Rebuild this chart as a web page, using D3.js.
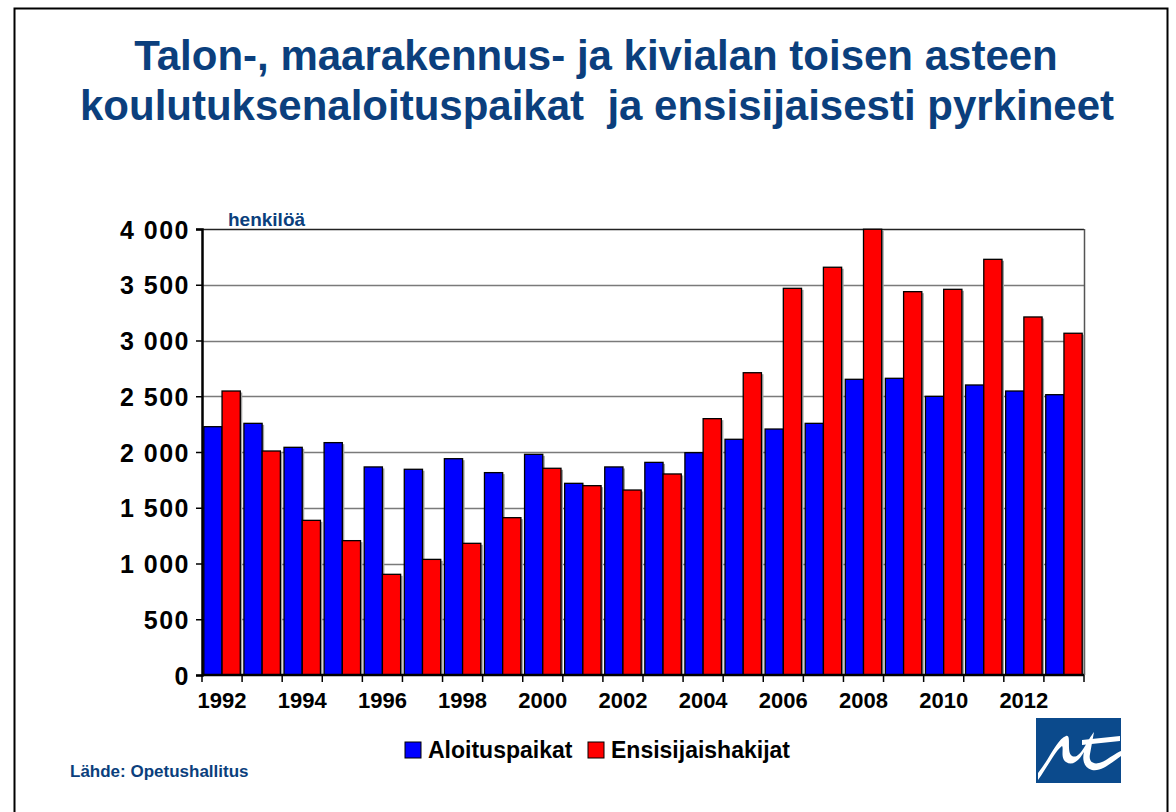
<!DOCTYPE html>
<html>
<head>
    <style>
        body { margin: 0; background: #fff; }
        svg text { font-family: "Liberation Sans", Arial, sans-serif; font-weight: bold; }
        .title { fill: #0b3f7d; font-size: 42px; text-anchor: middle; }
        .ylab text { font-size: 25px; letter-spacing: 1.5px; fill: #000; }
        .xlab text { font-size: 22px; fill: #000; }
        .note { fill: #0b3f7d; }
    </style>
    <script src="https://d3js.org/d3.v7.min.js"></script>
</head>
<body>
    <svg width="1176" height="812"></svg>
    <script>
        var years = [1992, 1993, 1994, 1995, 1996, 1997, 1998, 1999, 2000, 2001, 2002,
                     2003, 2004, 2005, 2006, 2007, 2008, 2009, 2010, 2011, 2012, 2013];
        var aloituspaikat = [2227, 2257, 2042, 2084, 1866, 1845, 1940, 1815, 1979, 1719, 1866,
                             1907, 1994, 2114, 2206, 2257, 2652, 2661, 2499, 2601, 2547, 2514];
        var ensisijaiset = [2547, 2009, 1387, 1205, 903, 1037, 1181, 1411, 1854, 1698, 1659,
                            1803, 2299, 2711, 3468, 3657, 3998, 3438, 3459, 3728, 3211, 3065];
        var yTicks = [0, 500, 1000, 1500, 2000, 2500, 3000, 3500, 4000];
        var seriesNames = ["Aloituspaikat", "Ensisijaishakijat"];
        var colors = ["#0000ff", "#ff0000"];

        var svg = d3.select("svg");
        var plotL = 202, plotR = 1084, plotT = 229, plotB = 675;

        // page frame
        svg.append("rect")
           .attr("x", 14.5).attr("y", 8.5)
           .attr("width", 1153).attr("height", 820)
           .attr("fill", "none").attr("stroke", "#000").attr("stroke-width", 2);

        svg.append("text").attr("class", "title").attr("x", 596).attr("y", 70)
           .text("Talon-, maarakennus- ja kivialan toisen asteen");
        svg.append("text").attr("class", "title").attr("x", 597).attr("y", 120)
           .attr("xml:space", "preserve")
           .text("koulutuksenaloituspaikat  ja ensisijaisesti pyrkineet");

        var x = d3.scaleBand().domain(years).range([plotL, plotR]).paddingInner(0).paddingOuter(0);
        var x1 = d3.scaleBand().domain([0, 1]).range([0, x.bandwidth()]).paddingOuter(0.1).paddingInner(0);
        var y = d3.scaleLinear().domain([0, 4000]).range([plotB, plotT]);

        // grid lines
        svg.append("g").selectAll("line")
           .data(yTicks.filter(function(d) { return d > 0; }))
           .enter().append("line")
           .attr("x1", plotL).attr("x2", plotR)
           .attr("y1", function(d) { return Math.round(y(d)) + 0.5; })
           .attr("y2", function(d) { return Math.round(y(d)) + 0.5; })
           .attr("stroke", function(d) { return d === 4000 ? "#222" : "#7a7a7a"; })
           .attr("stroke-width", 1.3);
        svg.append("line")
           .attr("x1", plotR + 0.5).attr("x2", plotR + 0.5)
           .attr("y1", plotT).attr("y2", plotB)
           .attr("stroke", "#555").attr("stroke-width", 1.5);

        var data = [];
        years.forEach(function(yr, i) {
            data.push({ year: yr, s: 0, v: aloituspaikat[i] });
            data.push({ year: yr, s: 1, v: ensisijaiset[i] });
        });

        // bar shadows
        svg.append("g").selectAll("rect").data(data).enter().append("rect")
           .attr("x", function(d) { return x(d.year) + x1(d.s) + 2; })
           .attr("y", function(d) { return y(d.v) + 1.5; })
           .attr("width", x1.bandwidth())
           .attr("height", function(d) { return plotB - y(d.v) - 1.5; })
           .attr("fill", "#a0a0a0");

        svg.append("g").selectAll("rect").data(data).enter().append("rect")
           .attr("x", function(d) { return x(d.year) + x1(d.s); })
           .attr("y", function(d) { return y(d.v); })
           .attr("width", x1.bandwidth())
           .attr("height", function(d) { return plotB - y(d.v); })
           .attr("fill", function(d) { return colors[d.s]; })
           .attr("stroke", "#000").attr("stroke-width", 1.3);

        // y axis
        var fmt = function(d) { return d3.format(",")(d).replace(",", " "); };
        var yAxis = svg.append("g").attr("class", "ylab")
           .attr("transform", "translate(" + plotL + ",0)")
           .call(d3.axisLeft(y).tickValues(yTicks).tickSize(6).tickPadding(6).tickFormat(fmt));
        yAxis.select(".domain").attr("stroke-width", 2.5);
        yAxis.selectAll(".tick line").attr("stroke-width", 1.5);
        yAxis.selectAll("text").attr("dy", "0.36em");

        // x axis with ticks between categories
        var xAxis = svg.append("g").attr("class", "xlab")
           .attr("transform", "translate(0," + plotB + ")");
        xAxis.append("line").attr("x1", plotL).attr("x2", plotR)
           .attr("stroke", "#000").attr("stroke-width", 2.5);
        xAxis.selectAll("line.tk").data(years.concat(["end"])).enter().append("line")
           .attr("class", "tk")
           .attr("x1", function(d, i) { return plotL + i * x.bandwidth(); })
           .attr("x2", function(d, i) { return plotL + i * x.bandwidth(); })
           .attr("y1", 0).attr("y2", 7)
           .attr("stroke", "#000").attr("stroke-width", 1.5);
        xAxis.selectAll("text").data(years.filter(function(d) { return d % 2 === 0; }))
           .enter().append("text")
           .attr("x", function(d) { return x(d) + x.bandwidth() / 2; })
           .attr("y", 33)
           .attr("text-anchor", "middle")
           .text(function(d) { return d; });

        svg.append("text").attr("class", "note").attr("x", 228).attr("y", 226)
           .style("font-size", "19px").text("henkilöä");

        // legend
        var legend = svg.append("g").attr("transform", "translate(405,742)");
        var lx = [0, 183];
        seriesNames.forEach(function(name, i) {
            legend.append("rect").attr("x", lx[i]).attr("y", 0)
               .attr("width", 16).attr("height", 16)
               .attr("fill", colors[i]).attr("stroke", "#000").attr("stroke-width", 1);
            legend.append("text").attr("x", lx[i] + 23).attr("y", 16)
               .style("font-size", "23px").text(name);
        });

        svg.append("text").attr("class", "note").attr("x", 70).attr("y", 777)
           .style("font-size", "17px").text("Lähde: Opetushallitus");

        // logo
        var logo = svg.append("g").attr("transform", "translate(1036,718)");
        logo.append("rect").attr("width", 85).attr("height", 65).attr("fill", "#0b4a8c");
        logo.append("path")
           .attr("d", "M2,55 C14,40 22,20 30,18 C36,16 30,34 36,38 C44,42 50,24 58,14 L54,36 C52,46 60,48 70,42 C76,38 82,34 85,33 L85,38 C76,44 66,54 56,52 C48,50 46,42 48,34 C42,44 36,48 30,44 C24,40 28,30 26,28 C20,32 12,48 2,62 Z")
           .attr("fill", "#fff");
        logo.append("path")
           .attr("d", "M46,22 L84,18 L84,23 L46,27 Z").attr("fill", "#fff");
    </script>
</body>
</html>
